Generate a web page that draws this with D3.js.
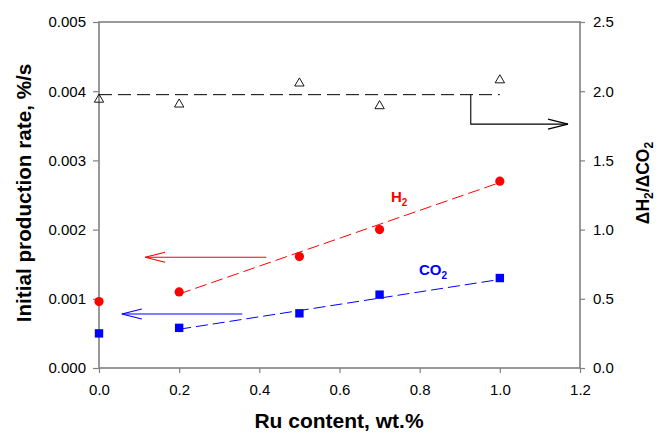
<!DOCTYPE html>
<html><head><meta charset="utf-8">
<script src="https://cdn.jsdelivr.net/npm/d3@7"></script>
<style>body{margin:0;background:#fff}svg{display:block;font-family:"Liberation Sans",Arial,sans-serif}</style>
</head><body>
<svg id="c" width="659" height="435"></svg>
<script>
const ruContent = [0, 0.2, 0.5, 0.7, 1.0];
const h2Rate = [0.00096, 0.00110, 0.00161, 0.00200, 0.00270];
const co2Rate = [0.00050, 0.00058, 0.00079, 0.00106, 0.00130];
const ratio = [1.94, 1.905, 2.057, 1.893, 2.08];
const h2FitX = [0.2, 1.0], h2FitY = [0.00107, 0.00268];
const co2FitX = [0.2, 1.0], co2FitY = [0.00056, 0.00128];
const ratioMeanX = [0, 1.0], ratioMeanY = [1.975, 1.975];
const xTicks = [0, 0.2, 0.4, 0.6, 0.8, 1.0, 1.2];
const yLeftTicks = [0, 0.001, 0.002, 0.003, 0.004, 0.005];
const yRightTicks = [0, 0.5, 1.0, 1.5, 2.0, 2.5];

const svg = d3.select("#c");
const L = 99, R = 580, T = 22, B = 368;
const x = d3.scaleLinear().domain([0, 1.2]).range([L, R]);
const yL = d3.scaleLinear().domain([0, 0.005]).range([B, T]);
const yR = d3.scaleLinear().domain([0, 2.5]).range([B, T]);
const axisCol = "#808080";

function styleAxis(g){
  g.selectAll(".domain").remove();
  g.selectAll(".tick line").attr("stroke", axisCol).attr("stroke-width", 1.2);
  g.selectAll(".tick text").attr("font-size", 15).attr("fill", "#000").attr("font-family", "Liberation Sans, Arial, sans-serif");
}
svg.append("g").attr("transform", `translate(0,${B})`)
  .call(d3.axisBottom(x).tickValues(xTicks).tickFormat(d3.format(".1f")).tickSizeOuter(0).tickSize(5).tickPadding(11))
  .call(styleAxis);
svg.append("g").attr("transform", `translate(${L},0)`)
  .call(d3.axisLeft(yL).tickValues(yLeftTicks).tickFormat(d3.format(".3f")).tickSizeOuter(0).tickSize(6).tickPadding(7))
  .call(styleAxis);
svg.append("g").attr("transform", `translate(${R},0)`)
  .call(d3.axisRight(yR).tickValues(yRightTicks).tickFormat(d3.format(".1f")).tickSizeOuter(0).tickSize(5).tickPadding(8))
  .call(styleAxis);
svg.append("rect").attr("x", L).attr("y", T).attr("width", R - L).attr("height", B - T)
  .attr("fill", "none").attr("stroke", axisCol).attr("stroke-width", 1.6);

const line = (xs, ys, ys2) => d3.line()(xs.map((v, i) => [x(v), ys2(ys[i])]));
// fit lines
svg.append("path").attr("d", line(h2FitX, h2FitY, yL)).attr("stroke", "#ff0000").attr("fill", "none")
  .attr("stroke-width", 1).attr("stroke-dasharray", "12,5");
svg.append("path").attr("d", line(co2FitX, co2FitY, yL)).attr("stroke", "#0000ff").attr("fill", "none")
  .attr("stroke-width", 1).attr("stroke-dasharray", "12,5");
svg.append("path").attr("d", line(ratioMeanX, ratioMeanY, yR)).attr("stroke", "#000").attr("fill", "none")
  .attr("stroke-width", 1).attr("stroke-dasharray", "13,6");

// markers
svg.append("g").selectAll("circle").data(ruContent).join("circle")
  .attr("cx", d => x(d)).attr("cy", (d, i) => yL(h2Rate[i])).attr("r", 4.6).attr("fill", "#ff0000");
svg.append("g").selectAll("rect").data(ruContent).join("rect")
  .attr("x", d => x(d) - 4.2).attr("y", (d, i) => yL(co2Rate[i]) - 4.2).attr("width", 8.4).attr("height", 8.4).attr("fill", "#0000ff");
const tri = d3.symbol().type(d3.symbolTriangle).size(38);
svg.append("g").selectAll("path").data(ruContent).join("path")
  .attr("d", tri).attr("transform", (d, i) => `translate(${x(d)},${yR(ratio[i])})`)
  .attr("fill", "none").attr("stroke", "#000").attr("stroke-width", 0.9);

// arrows
function arrow(pts, col){
  svg.append("path").attr("d", d3.line()(pts)).attr("stroke", col).attr("fill", "none").attr("stroke-width", 1.1);
  const [x1, y1] = pts[pts.length - 1], [x0, y0] = pts[pts.length - 2];
  const dir = Math.sign(x1 - x0);
  svg.append("path").attr("d", d3.line()([[x1 - dir * 20, y1 - 5], [x1, y1], [x1 - dir * 20, y1 + 5]]))
    .attr("stroke", col).attr("fill", "none").attr("stroke-width", 1.1);
}
arrow([[x(0.4175), yL(0.0016)], [x(0.115), yL(0.0016)]], "#ff0000");
arrow([[x(0.3575), yL(0.00078)], [x(0.057), yL(0.00078)]], "#0000ff");
arrow([[x(0.9275), yR(1.975)], [x(0.9275), yR(1.762)], [x(1.17), yR(1.762)]], "#000");

// labels
const h2t = svg.append("text").attr("x", 391).attr("y", 202).attr("fill", "#ff0000").attr("font-weight", "bold").attr("font-size", 15);
h2t.append("tspan").text("H");
h2t.append("tspan").text("2").attr("font-size", 10).attr("dy", 4);
const co2t = svg.append("text").attr("x", 419).attr("y", 275).attr("fill", "#0000ff").attr("font-weight", "bold").attr("font-size", 15);
co2t.append("tspan").text("CO");
co2t.append("tspan").text("2").attr("font-size", 10).attr("dy", 4);

svg.append("text").attr("x", 339).attr("y", 428).attr("text-anchor", "middle")
  .attr("font-weight", "bold").attr("font-size", 21).text("Ru content, wt.%");
svg.append("text").attr("transform", "translate(31,193) rotate(-90)").attr("text-anchor", "middle")
  .attr("font-weight", "bold").attr("font-size", 20.7).text("Initial production rate, %/s");
const rt = svg.append("text").attr("transform", "translate(649,183) rotate(-90)").attr("text-anchor", "middle")
  .attr("font-weight", "bold").attr("font-size", 17.5);
rt.append("tspan").text("ΔH");
rt.append("tspan").text("2").attr("font-size", 12).attr("dy", 4);
rt.append("tspan").text("/ΔCO").attr("dy", -4);
rt.append("tspan").text("2").attr("font-size", 12).attr("dy", 4);
</script>
</body></html>
